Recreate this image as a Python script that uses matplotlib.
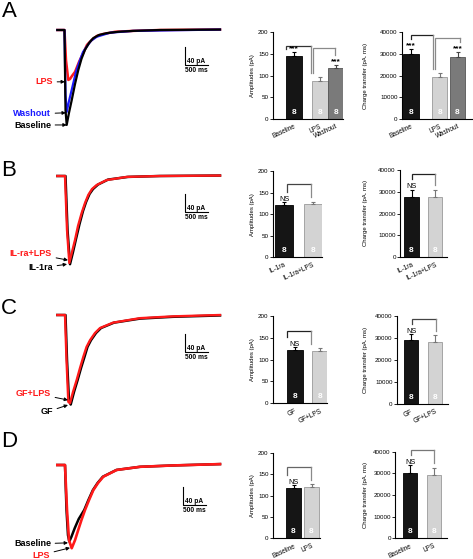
import numpy as np
import matplotlib
matplotlib.use("Agg")
import matplotlib.pyplot as plt

plt.rcParams['font.family'] = ['Liberation Sans', 'DejaVu Sans']

W, H = 473, 559
MS_PX = 500 / 23      # ms per pixel (scale bar)
PA_PX = 40 / 18       # pA per pixel (scale bar)
N_CELLS = 8

# ---------------- traces (time in ms, current in pA) ----------------
a_base_t = [-15, 141, 163, 189, 239, 298, 370, 441, 511, 587, 674, 767, 891, 1059, 1304, 1630, 2217, 3522]
a_base_i = [0, 0, -178, -211, -184, -156, -120, -89, -64, -44, -29, -18, -11, -7, -4, -2, 0, 1]
a_lps_t = [-15, 141, 174, 224, 261, 304, 370, 456, 550, 630, 733, 848, 978, 1239, 1630, 2217, 3522]
a_lps_i = [0, 0, -67, -111, -109, -102, -93, -71, -51, -33, -22, -13, -9, -4, -2, 0, 1]
a_wash_t = [-15, 141, 163, 189, 239, 298, 391, 478, 544, 624, 717, 841, 1130, 1630, 3522]
a_wash_i = [0, 0, -144, -182, -158, -133, -93, -67, -49, -37, -24, -15, -6, -2, 1]

b_il_t = [-15, 163, 207, 261, 326, 391, 467, 543, 609, 685, 761, 870, 1087, 1522, 2217, 3522]
b_il_i = [0, 0, -120, -196, -169, -140, -107, -78, -58, -40, -29, -19, -8, -2, 0, 1]
b_illps_t = [-15, 152, 196, 246, 304, 370, 435, 515, 587, 659, 739, 841, 1059, 1494, 2217, 3522]
b_illps_i = [0, 0, -120, -193, -169, -142, -111, -82, -60, -42, -29, -20, -9, -2, 0, 1]

c_gf_t = [-15, 163, 196, 239, 276, 348, 428, 500, 576, 641, 717, 826, 935, 1217, 1783, 2500, 3522]
c_gf_i = [0, 0, -100, -189, -199, -171, -144, -118, -93, -71, -56, -40, -29, -17, -8, -4, -1]
c_gflps_t = [-15, 152, 185, 224, 261, 326, 407, 478, 550, 620, 696, 804, 913, 1196, 1783, 2500, 3522]
c_gflps_i = [0, 0, -100, -193, -196, -171, -144, -118, -93, -71, -56, -40, -29, -17, -7, -3, 0]

d_base_t = [-15, 152, 185, 217, 246, 290, 365, 450, 570, 660, 757, 860, 975, 1270, 1783, 2500, 3522]
d_base_i = [0, 0, -100, -156, -170, -160, -140, -120, -100, -78, -56, -40, -26, -11, -4, -1, 2]
d_lps_t = [-15, 152, 196, 239, 298, 370, 441, 511, 587, 674, 767, 870, 985, 1276, 1783, 2500, 3522]
d_lps_i = [0, 0, -100, -167, -185, -167, -144, -122, -100, -78, -56, -40, -26, -11, -4, -1, 2]

# ---------------- bar data ----------------
a_labels = ["Baseline", "LPS", "Washout"]
a_amp = [146, 88, 117]
a_amp_err = [9, 8, 7]
a_chg = [29800, 19200, 28800]
a_chg_err = [2400, 1800, 2000]
a_sig = ["***", "", "***"]

b_labels = ["IL-1ra", "IL-1ra+LPS"]
b_amp = [121, 123]
b_amp_err = [7, 6]
b_chg = [27800, 27800]
b_chg_err = [3100, 3100]

c_labels = ["GF", "GF+LPS"]
c_amp = [122, 120]
c_amp_err = [6, 6]
c_chg = [29100, 28400]
c_chg_err = [2600, 3000]

d_labels = ["Baseline", "LPS"]
d_amp = [118, 119]
d_amp_err = [6, 8]
d_chg = [30000, 29300]
d_chg_err = [3800, 3300]

two_sig = ["NS", ""]

BLACK, LIGHT, MID = "#151515", "#d3d3d3", "#7a7a7a"
EDGES = {BLACK: "#000000", LIGHT: "#9a9a9a", MID: "#555555"}
ECOL = {BLACK: "#000000", LIGHT: "#777777", MID: "#444444"}
RED, BLUE = "#ff1a1a", "#1a1aff"

fig = plt.figure(figsize=(W / 100, H / 100), dpi=100)


def px_axes(l, t, r, b):
    return fig.add_axes([l / W, 1 - b / H, (r - l) / W, (b - t) / H])


def fpt(x, y):
    return (x / W, 1 - y / H)


def draw_traces(y0, traces, labels, sx, sb):
    ax = px_axes(0, y0 - 15, 240, y0 + 100)
    ax.set_xlim(-58 * MS_PX, 182 * MS_PX)
    ax.set_ylim(-100 * PA_PX, 15 * PA_PX)
    ax.axis("off")
    for t, i, c, lw in traces:
        ax.plot(t, i, color=c, lw=lw, solid_joinstyle="round")
    for text, color, (tx, ty), tip in labels:
        ax.annotate(text, xy=tip, xycoords="data", xytext=fpt(tx, ty),
                    textcoords="figure fraction", ha="right", va="center",
                    color=color, fontsize=6.5, fontweight="bold",
                    arrowprops=dict(arrowstyle="-|>", color="black", lw=0.7,
                                    mutation_scale=5, shrinkA=1, shrinkB=0))
    ax.plot([sx, sx, sx + 500], [sb + 40, sb, sb], color="black", lw=0.8)
    ax.text(sx + 50, sb + 7, "40 pA", fontsize=4.8, fontweight="bold", ha="left", va="center")
    ax.text(sx + 5, sb - 13, "500 ms", fontsize=4.8, fontweight="bold", ha="left", va="center")


def draw_bars(rect, ymax, step, pos, xlim, width, labels, vals, errs, colors, sig,
              brackets, ylabel, ylabel_x):
    ax = px_axes(*rect)
    ax.bar(pos, vals, width=width, color=colors,
           edgecolor=[EDGES[c] for c in colors], linewidth=0.6, zorder=2)
    for x, v, e, c in zip(pos, vals, errs, colors):
        ax.errorbar(x, v, yerr=[[0], [e]], fmt="none", ecolor=ECOL[c],
                    elinewidth=0.8, capsize=1.6, capthick=0.8, zorder=3)
    ax.set_xlim(*xlim)
    ax.set_ylim(0, ymax)
    ax.set_yticks(np.arange(0, ymax + 1, step))
    ax.set_xticks(pos)
    ax.set_xticklabels(labels, rotation=25, ha="right", rotation_mode="anchor")
    ax.tick_params(axis="y", length=2, width=0.6, labelsize=4.5, pad=1)
    ax.tick_params(axis="x", length=0, labelsize=4.7, pad=3)
    for s in ["top", "right"]:
        ax.spines[s].set_visible(False)
    for s in ["left", "bottom"]:
        ax.spines[s].set_linewidth(0.8)
    for x, s, v, e in zip(pos, sig, vals, errs):
        if s:
            ax.text(x, v + e + 0.035 * ymax, s, ha="center", va="center",
                    fontsize=6 if s == "***" else 5.3,
                    fontweight="bold" if s == "***" else "normal", clip_on=False)
    for x in pos:
        ax.text(x, 0.075 * ymax, str(N_CELLS), color="white", ha="center", va="center",
                fontsize=6, fontweight="bold")
    for i, j, level, dxi, dxj, col in brackets:
        xi, xj = pos[i] + dxi, pos[j] + dxj
        ei = vals[i] + errs[i] + 0.05 * ymax + (0.07 * ymax if sig[i] else 0)
        ej = vals[j] + errs[j] + 0.05 * ymax + (0.07 * ymax if sig[j] else 0)
        ei = min(ei, level - 0.03 * ymax)
        ej = min(ej, level - 0.03 * ymax)
        ax.plot([xi, xi, xj], [ei, level, level], color=col, lw=0.9,
                clip_on=False, solid_joinstyle="miter")
        ax.plot([xj, xj], [level, ej], color="#8a8a8a", lw=0.9, clip_on=False)
    l, t, r, b = rect
    fig.text(*fpt(ylabel_x, (t + b) / 2), ylabel, rotation=90, ha="center",
             va="center", fontsize=4.3)
    return ax


# ---------------- panel letters ----------------
for letter, (x, y) in zip("ABCD", [(1.5, 1), (1, 160), (1, 298), (1, 431)]):
    fig.text(*fpt(x, y), letter, fontsize=16, ha="left", va="top")

# ---------------- traces ----------------
draw_traces(30,
            [(a_lps_t, a_lps_i, RED, 1.8), (a_wash_t, a_wash_i, BLUE, 1.6),
             (a_base_t, a_base_i, "black", 1.6)],
            [("LPS", RED, (53, 82), (150, -115)),
             ("Washout", BLUE, (51, 114), (170, -184)),
             ("Baseline", "black", (51, 125), (189, -211))],
            127 * MS_PX, -78)
draw_traces(176,
            [(b_il_t, b_il_i, "black", 1.8), (b_illps_t, b_illps_i, RED, 1.7)],
            [("IL-ra+LPS", RED, (52, 253), (217, -187)),
             ("IL-1ra", "black", (53, 268), (196, -196))],
            127 * MS_PX, -80)
draw_traces(315,
            [(c_gf_t, c_gf_i, "black", 1.8), (c_gflps_t, c_gflps_i, RED, 1.7)],
            [("GF+LPS", RED, (51, 393), (217, -189)),
             ("GF", "black", (53, 412), (217, -200))],
            127 * MS_PX, -82)
draw_traces(465,
            [(d_base_t, d_base_i, "black", 1.8), (d_lps_t, d_lps_i, RED, 1.9)],
            [("Baseline", "black", (51, 544), (217, -173)),
             ("LPS", RED, (50, 555), (261, -184))],
            125 * MS_PX, -89)

# ---------------- bar charts ----------------
AMP_LABEL = "Amplitudes (pA)"
CHG_LABEL = "Charge transfer (pA. ms)"
three = [BLACK, LIGHT, MID]
two = [BLACK, LIGHT]
p3 = [0, 1.6, 2.6]
p2 = [0, 1]

draw_bars((272.7, 32.3, 343, 119), 200, 50, p3, (-1.32, 3.03), 0.95, a_labels,
          a_amp, a_amp_err, three, a_sig,
          [(0, 1, 168, -0.5, -0.54, "#333333"), (1, 2, 163, -0.44, -0.06, "#8a8a8a")],
          AMP_LABEL, 252)
draw_bars((401.7, 32.3, 472, 119), 40000, 10000, p3, (-0.52, 3.41), 0.84, a_labels,
          a_chg, a_chg_err, three, a_sig,
          [(0, 1, 38770, -0.02, -0.35, "#222222"), (1, 2, 37540, -0.26, 0.14, "#8a8a8a")],
          CHG_LABEL, 365)

draw_bars((272.7, 171, 322, 257.3), 200, 50, p2, (-0.40, 1.33), 0.63, b_labels,
          b_amp, b_amp_err, two, two_sig, [(0, 1, 170, 0.09, -0.05, "#444444")],
          AMP_LABEL, 252)
draw_bars((400, 170, 447, 257), 40000, 10000, p2, (-0.49, 1.51), 0.6, b_labels,
          b_chg, b_chg_err, two, two_sig, [(0, 1, 38170, 0.0, 0.0, "#222222")],
          CHG_LABEL, 365)

draw_bars((272.7, 316, 327, 403.3), 200, 50, p2, (-0.89, 1.28), 0.64, c_labels,
          c_amp, c_amp_err, two, two_sig, [(0, 1, 165.6, -0.33, -0.36, "#222222")],
          AMP_LABEL, 252)
draw_bars((396.7, 316, 448, 404), 40000, 10000, p2, (-0.6, 1.54), 0.6, c_labels,
          c_chg, c_chg_err, two, two_sig, [(0, 1, 38500, 0.03, 0.03, "#444444")],
          CHG_LABEL, 365)

draw_bars((272.7, 452.7, 320, 538.3), 200, 50, p2, (-1.16, 1.47), 0.83, d_labels,
          d_amp, d_amp_err, two, two_sig, [(0, 1, 166, -0.38, -0.03, "#666666")],
          AMP_LABEL, 252)
draw_bars((395, 451.7, 447, 538.3), 40000, 10000, p2, (-0.625, 1.54), 0.6, d_labels,
          d_chg, d_chg_err, two, two_sig, [(0, 1, 41000, 0.03, 0.0, "#777777")],
          CHG_LABEL, 365)

fig.savefig("out.png", dpi=100)
